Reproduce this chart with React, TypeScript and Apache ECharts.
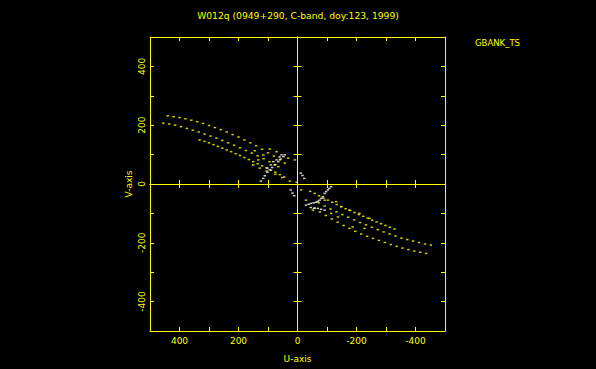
import React, { useEffect, useRef } from "react";
import * as echarts from "echarts";

const TITLE = "W012q (0949+290, C-band, doy:123, 1999)";
const STATION = "GBANK_TS";
const U_NAME = "U-axis";
const V_NAME = "V-axis";
const AXIS_MIN = -500;
const AXIS_MAX = 500;
const TICK_STEP = 100;
const LABEL_STEP = 200;
const LABEL_LIMIT = 400;

// yellow tracks, upper-left half [u, v]
const YELLOW_UL_1 = [[440,232],[420,229],[400,226],[380,222],[360,217],[340,212],[320,206],[300,199],[280,192],[260,185],[240,177],[220,168],[200,160],[180,150],[160,140],[140,130],[120,118],[100,106],[80,95],[60,82]];
const YELLOW_UL_2 = [[455,207],[435,204],[415,200],[395,195],[375,189],[355,183],[335,177],[315,170],[295,163],[275,156],[255,148],[235,140],[215,132],[195,123],[175,114],[155,105],[135,96],[115,86],[95,76],[75,66]];
const YELLOW_UL_3 = [[332,150],[315,145],[300,140],[285,134],[270,128],[255,122],[240,116],[225,110],[210,103],[195,97],[180,90],[165,83],[150,76],[135,69],[120,62],[105,55],[90,47],[75,40],[60,32],[45,24]];
const YELLOW_UL_SCATTER = [[145,113],[116,99],[94,119],[71,110],[32,88],[9,82],[150,65],[128,54],[105,44],[75,33],[52,22],[26,10],[3,6],[65,59],[43,71],[133,82]];

// yellow tracks, lower-right half [u, v]
const YELLOW_LR_1 = [[-436,-236],[-416,-232],[-396,-228],[-376,-223],[-356,-218],[-336,-212],[-316,-206],[-296,-199],[-276,-192],[-256,-185],[-236,-178],[-216,-170],[-196,-161],[-176,-151],[-156,-141],[-136,-130],[-116,-119],[-96,-107],[-76,-95],[-56,-83]];
const YELLOW_LR_2 = [[-452,-208],[-432,-204],[-412,-199],[-392,-194],[-372,-189],[-352,-184],[-332,-177],[-312,-170],[-292,-163],[-272,-155],[-252,-147],[-232,-139],[-212,-131],[-192,-122],[-172,-113],[-152,-104],[-132,-95],[-112,-85],[-92,-75],[-72,-64]];
const YELLOW_LR_3 = [[-329,-153],[-313,-147],[-298,-141],[-283,-135],[-268,-129],[-253,-123],[-238,-116],[-223,-110],[-208,-104],[-193,-97],[-178,-90],[-163,-84],[-148,-77],[-133,-70],[-118,-62],[-103,-55],[-88,-48],[-73,-40],[-58,-32],[-43,-25]];
const YELLOW_LR_SCATTER = [[-12,-20],[-29,-55],[-52,-89],[-92,-55],[-114,-100],[-137,-112],[-176,-89],[-210,-100],[-244,-117],[-187,-146],[-227,-151],[-131,-60],[-148,-77]];

// white tracks near the centre [u, v]
const WHITE_UL_A = [[124,10],[116,19],[111,28],[102,40],[94,48],[86,56],[77,65],[65,76],[57,85],[48,93],[43,99]];
const WHITE_UL_B = [[102,54],[90,65],[82,76],[71,82],[61,92],[54,99]];
const WHITE_UL_C = [[-11,37],[-17,29],[-23,19]];
const WHITE_LR_A = [[-114,-9],[-108,-15],[-103,-20],[-97,-26],[-92,-32],[-86,-43],[-80,-49],[-75,-55],[-69,-59],[-63,-62],[-55,-64],[-46,-66],[-38,-69],[-29,-72]];
const WHITE_LR_B = [[-45,-80],[-58,-82],[-69,-83],[-80,-86],[-92,-89]];
const WHITE_LR_C = [[23,-20],[17,-31],[11,-40]];

const YELLOW = "#ffff00";
const WHITE = "#ffffff";
const FONT = "DejaVu Sans";

const YELLOW_SERIES = [YELLOW_UL_1, YELLOW_UL_2, YELLOW_UL_3, YELLOW_UL_SCATTER, YELLOW_LR_1, YELLOW_LR_2, YELLOW_LR_3, YELLOW_LR_SCATTER];
const WHITE_SERIES = [WHITE_UL_A, WHITE_UL_B, WHITE_UL_C, WHITE_LR_A, WHITE_LR_B, WHITE_LR_C];

function makeAxis(position: string, onZero: boolean, inside: boolean, extra: any = {}) {
  return {
    type: "value",
    position,
    min: AXIS_MIN,
    max: AXIS_MAX,
    interval: TICK_STEP,
    splitLine: { show: false },
    axisLine: onZero
      ? { show: true, onZero: true, onZeroAxisIndex: 0, lineStyle: { color: YELLOW, width: 1 } }
      : { show: true, onZero: false, lineStyle: { color: YELLOW, width: 1 } },
    axisTick: { show: true, inside, length: 4, lineStyle: { color: YELLOW, width: 1 } },
    axisLabel: { show: false },
    ...extra,
  };
}

const labelFormatter = (v: number) =>
  v % LABEL_STEP === 0 && Math.abs(v) <= LABEL_LIMIT ? String(v) : "";

export default function App() {
  const ref = useRef<HTMLDivElement>(null);
  useEffect(() => {
    const chart = echarts.init(ref.current!, null, { renderer: "svg" });
    const series: any[] = [];
    YELLOW_SERIES.forEach((d) =>
      series.push({
        type: "scatter",
        xAxisIndex: 0,
        yAxisIndex: 0,
        data: d,
        symbol: "rect",
        symbolSize: [2.5, 1.5],
        itemStyle: { color: YELLOW },
        silent: true,
      })
    );
    WHITE_SERIES.forEach((d) =>
      series.push({
        type: "scatter",
        xAxisIndex: 0,
        yAxisIndex: 0,
        data: d,
        symbol: "rect",
        symbolSize: [2.5, 1.5],
        itemStyle: { color: WHITE },
        silent: true,
        z: 3,
      })
    );
    chart.setOption({
      animation: false,
      backgroundColor: "#000000",
      title: [
        {
          text: TITLE,
          left: "center",
          top: 11,
          padding: 0,
          textStyle: { color: YELLOW, fontSize: 9.2, fontWeight: "normal", fontFamily: FONT },
        },
        {
          text: STATION,
          left: 475,
          top: 38,
          padding: 0,
          textStyle: { color: YELLOW, fontSize: 8.5, fontWeight: "normal", fontFamily: FONT },
        },
      ],
      grid: { left: 150, top: 37, width: 295, height: 294, containLabel: false },
      xAxis: [
        makeAxis("bottom", false, true, {
          inverse: true,
          axisLabel: {
            show: true,
            color: YELLOW,
            fontSize: 9,
            fontFamily: FONT,
            margin: 5,
            formatter: labelFormatter,
          },
          name: U_NAME,
          nameLocation: "middle",
          nameGap: 23,
          nameTextStyle: { color: YELLOW, fontSize: 9, fontFamily: FONT },
        }),
        makeAxis("top", false, true, { inverse: true }),
        makeAxis("bottom", true, false, { inverse: true }),
        makeAxis("top", true, false, { inverse: true }),
      ],
      yAxis: [
        makeAxis("left", false, true, {
          axisLabel: {
            show: true,
            color: YELLOW,
            fontSize: 9,
            fontFamily: FONT,
            margin: 4,
            rotate: 90,
            formatter: labelFormatter,
          },
          name: V_NAME,
          nameLocation: "middle",
          nameRotate: 90,
          nameGap: 17,
          nameTextStyle: { color: YELLOW, fontSize: 9, fontFamily: FONT },
        }),
        makeAxis("right", false, true),
        makeAxis("left", true, false),
        makeAxis("right", true, false),
      ],
      series,
    });
    return () => chart.dispose();
  }, []);
  return (
    <div
      ref={ref}
      style={{ position: "fixed", left: 0, top: 0, width: 596, height: 369, background: "#000" }}
    />
  );
}
